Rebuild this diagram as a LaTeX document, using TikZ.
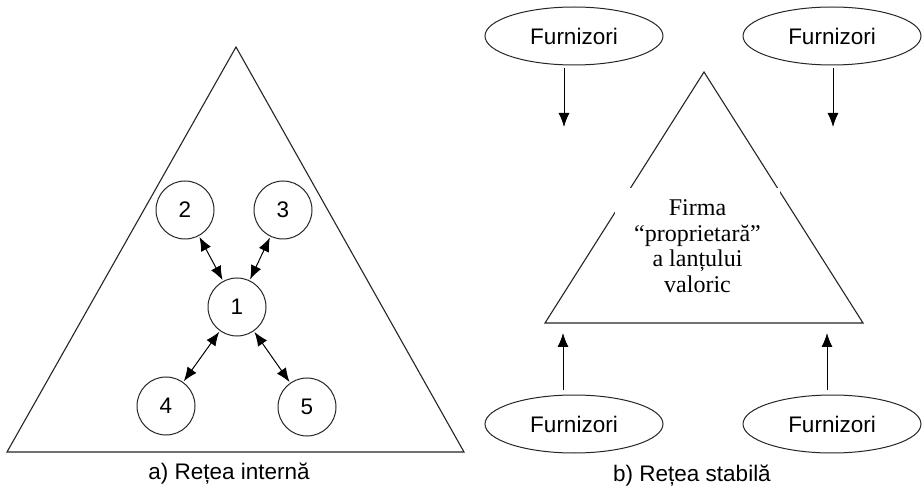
\documentclass[tikz,border=0pt]{standalone}
\usepackage{fontspec}
\setmainfont{Liberation Sans}
\newfontfamily\serifface{Liberation Serif}
\usetikzlibrary{arrows.meta,shapes.geometric}

\begin{document}
\begin{tikzpicture}[x=1pt,y=-1pt,
  edge/.style={draw=black!85,line width=1.1pt,line join=miter},
  member/.style={circle,draw=black!85,line width=1pt,minimum size=58pt,inner sep=0pt,
    font=\fontsize{22.5}{26}\selectfont},
  supplier/.style={ellipse,draw=black!85,line width=1pt,minimum width=178pt,minimum height=58pt,
    inner sep=0pt,font=\fontsize{22.5}{26}\selectfont},
  link/.style={line width=1pt,
    {Latex[length=14pt,width=11pt]}-{Latex[length=14pt,width=11pt]},
    shorten <=1pt,shorten >=1pt},
  flow/.style={line width=1pt,-{Latex[length=14pt,width=11pt]}},
  caption/.style={font=\fontsize{22.5}{26}\selectfont}]
\useasboundingbox (0,0) rectangle (924,494);
\fill[white] (0,0) rectangle (924,494);

% a) internal network
\draw[edge] (236,47) -- (464,452) -- (7,452) -- cycle;
\node[member] (n1) at (237,307) {1};
\node[member] (n2) at (185,210) {2};
\node[member] (n3) at (283,210) {3};
\node[member] (n4) at (166,406) {4};
\node[member] (n5) at (307,407) {5};
\draw[link] (n2) -- (n1);
\draw[link] (n3) -- (n1);
\draw[link] (n1) -- (n4);
\draw[link] (n1) -- (n5);
\node[caption] (capa) at (229,474) {a) Rețea internă};

% b) stable network
\draw[edge] (704,72) -- (863,323) -- (545,323) -- cycle;
\node[fill=white,minimum width=165pt,minimum height=116pt,inner sep=0pt,align=center,
  font=\serifface\fontsize{24}{25.5}\selectfont] (firm) at (697.5,246)
  {Firma\\“proprietară”\\a lanțului\\valoric};

\node[supplier] (s1) at (574,36) {Furnizori};
\node[supplier] (s2) at (832,36) {Furnizori};
\node[supplier] (s3) at (574,424) {Furnizori};
\node[supplier] (s4) at (832,424) {Furnizori};

\coordinate (t1) at (564,127);
\coordinate (t2) at (833,127);
\coordinate (t3) at (563,333);
\coordinate (t4) at (827,333);
\draw[flow,shorten <=3pt] (s1.south -| t1) -- (t1);
\draw[flow,shorten <=3pt] (s2.south -| t2) -- (t2);
\draw[flow,shorten <=5pt] (s3.north -| t3) -- (t3);
\draw[flow,shorten <=5pt] (s4.north -| t4) -- (t4);

\node[caption] (capb) at (692,476) {b) Rețea stabilă};
\end{tikzpicture}
\end{document}
